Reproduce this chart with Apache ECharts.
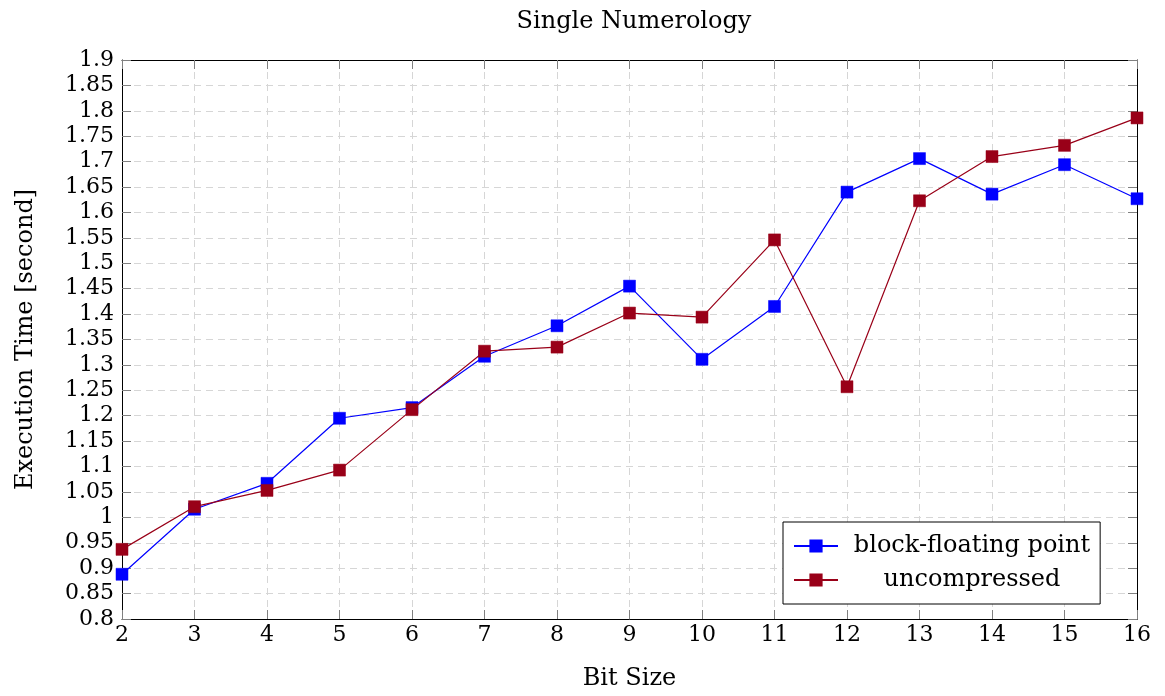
<!DOCTYPE html>
<html>
<head>
<meta charset="utf-8">
<title>Single Numerology</title>
<script src="https://cdn.jsdelivr.net/npm/echarts@6/dist/echarts.min.js"></script>
<style>
  html, body { margin: 0; padding: 0; background: #fff; }
  #chart { width: 1165px; height: 696px; }
</style>
</head>
<body>
<div id="chart"></div>
<script>
// Bit sizes on the x axis
const bitSizes = [2, 3, 4, 5, 6, 7, 8, 9, 10, 11, 12, 13, 14, 15, 16];
// Execution time in seconds per bit size
const blockFloatingPoint = [0.888, 1.016, 1.067, 1.195, 1.216, 1.317, 1.377, 1.455, 1.311, 1.415, 1.640, 1.706, 1.636, 1.694, 1.627];
const uncompressed = [0.937, 1.021, 1.053, 1.093, 1.212, 1.327, 1.335, 1.402, 1.394, 1.546, 1.257, 1.623, 1.710, 1.732, 1.786];
const seriesNames = ['block-floating point', 'uncompressed'];

const FONT = "'DejaVu Serif', serif";
const BLUE = '#0000ff';
const RED = '#990018';

const pairs = vals => bitSizes.map((b, i) => [b, vals[i]]);

const chart = echarts.init(document.getElementById('chart'), null, { renderer: 'canvas' });

const tickStyle = { show: true, inside: true, length: 9, lineStyle: { color: '#808080', width: 1 } };
const gridDash = { show: true, lineStyle: { color: '#d6d6d6', type: [7, 5], width: 1 } };

chart.setOption({
  animation: false,
  backgroundColor: '#ffffff',
  title: {
    text: 'Single Numerology',
    left: 629,
    top: 5,
    textAlign: 'center',
    textStyle: { fontFamily: FONT, fontSize: 24, fontWeight: 'normal', color: '#000' }
  },
  grid: { left: 122, right: 28, top: 60, bottom: 74, containLabel: false },
  legend: {
    data: seriesNames,
    orient: 'vertical',
    left: 783,
    top: 522,
    backgroundColor: '#fff',
    borderColor: '#000',
    borderWidth: 1,
    borderRadius: 0,
    padding: [12, 10, 12, 10],
    itemWidth: 44,
    itemHeight: 14,
    itemGap: 10,
    formatter: name => '{t|' + name + '}',
    textStyle: {
      fontFamily: FONT,
      fontSize: 24,
      color: '#000',
      rich: { t: { fontFamily: FONT, fontSize: 24, width: 258, align: 'center', color: '#000' } }
    }
  },
  xAxis: [{
    type: 'value',
    min: 2, max: 16, interval: 1,
    name: 'Bit Size',
    nameLocation: 'middle',
    nameGap: 48,
    nameTextStyle: { fontFamily: FONT, fontSize: 24, color: '#000' },
    axisLine: { show: true, lineStyle: { color: '#000', width: 1 } },
    axisTick: tickStyle,
    axisLabel: { fontFamily: FONT, fontSize: 22, color: '#000', margin: 5, showMinLabel: true, showMaxLabel: true },
    splitLine: gridDash
  }, {
    type: 'value',
    position: 'top',
    min: 2, max: 16, interval: 1,
    axisLine: { show: true, lineStyle: { color: '#000', width: 1 } },
    axisTick: tickStyle,
    axisLabel: { show: false },
    splitLine: { show: false }
  }],
  yAxis: [{
    type: 'value',
    min: 0.8, max: 1.9, interval: 0.05,
    name: 'Execution Time [second]',
    nameLocation: 'middle',
    nameGap: 84,
    nameRotate: 90,
    nameTextStyle: { fontFamily: FONT, fontSize: 24, color: '#000' },
    axisLine: { show: true, lineStyle: { color: '#000', width: 1 } },
    axisTick: tickStyle,
    axisLabel: {
      fontFamily: FONT, fontSize: 22, lineHeight: 20, color: '#000', margin: 8,
      showMinLabel: true, showMaxLabel: true, hideOverlap: false,
      formatter: v => String(+v.toFixed(2))
    },
    splitLine: gridDash
  }, {
    type: 'value',
    position: 'right',
    min: 0.8, max: 1.9, interval: 0.05,
    axisLine: { show: true, lineStyle: { color: '#000', width: 1 } },
    axisTick: tickStyle,
    axisLabel: { show: false },
    splitLine: { show: false }
  }],
  series: [{
    name: seriesNames[0],
    type: 'line',
    data: pairs(blockFloatingPoint),
    symbol: 'rect',
    symbolSize: 12,
    color: BLUE,
    lineStyle: { color: BLUE, width: 1.2 },
    itemStyle: { color: BLUE, borderColor: BLUE, borderWidth: 0.5 },
    z: 3
  }, {
    name: seriesNames[1],
    type: 'line',
    data: pairs(uncompressed),
    symbol: 'rect',
    symbolSize: 12,
    color: RED,
    lineStyle: { color: RED, width: 1.2 },
    itemStyle: { color: RED, borderColor: RED, borderWidth: 0.5 },
    z: 4
  }]
});
</script>
</body>
</html>
